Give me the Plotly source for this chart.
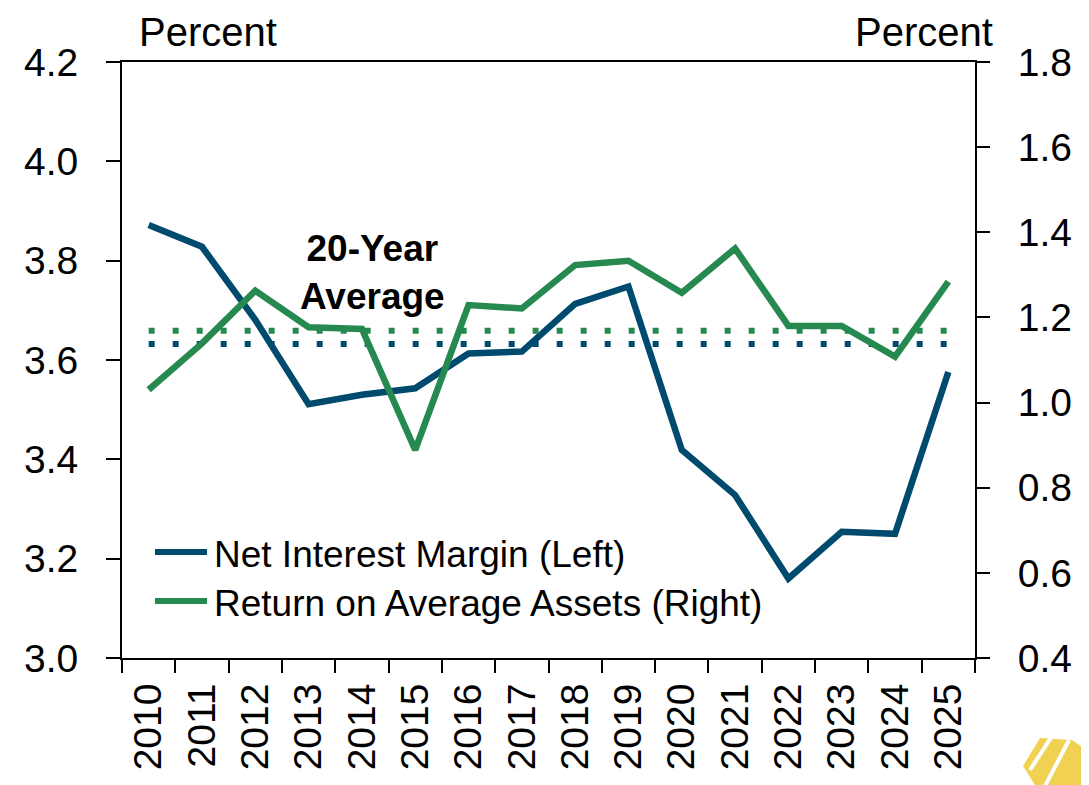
import plotly.graph_objects as go

years = [str(y) for y in range(2010, 2026)]
nim = [3.872, 3.828, 3.681, 3.511, 3.530, 3.543, 3.613, 3.617, 3.713, 3.748,
       3.419, 3.328, 3.160, 3.254, 3.250, 3.576]
roa = [1.030, 1.139, 1.263, 1.177, 1.173, 0.889, 1.229, 1.221, 1.323, 1.333,
       1.258, 1.362, 1.180, 1.180, 1.108, 1.284]
nim_avg = 3.632
roa_avg = 1.169

left_ticks = [3.0, 3.2, 3.4, 3.6, 3.8, 4.0, 4.2]
right_ticks = [0.4, 0.6, 0.8, 1.0, 1.2, 1.4, 1.6, 1.8]

series_names = ["Net Interest Margin (Left)", "Return on Average Assets (Right)"]

BLUE = "#004A6E"
GREEN = "#268950"
FONT = "Liberation Sans, Arial, sans-serif"

# page has an 8px body margin; size the figure to fill the rest of the window
OFF = 8
W, H = 1089 - OFF, 785 - OFF
# plot area in window pixels: x 122..975, y 62..658
PL, PR, PT, PB = 122, 975, 62, 658
ML, MT = PL - OFF, PT - OFF
MR, MB = W - (PR - OFF), H - (PB - OFF)
PW, PH = PR - PL, PB - PT


def px(x, y):
    """window pixel position -> paper coordinates"""
    return (x - PL) / PW, (PB - y) / PH


fig = go.Figure()
# 20-year averages (dotted)
fig.add_trace(go.Scatter(x=[years[0], years[-1]], y=[roa_avg, roa_avg], mode="lines",
                         line=dict(color=GREEN, width=6, dash="6px,18px"),
                         yaxis="y2", showlegend=False, hoverinfo="skip"))
fig.add_trace(go.Scatter(x=[years[0], years[-1]], y=[nim_avg, nim_avg], mode="lines",
                         line=dict(color=BLUE, width=6, dash="6px,18px"),
                         showlegend=False, hoverinfo="skip"))
# main series
fig.add_trace(go.Scatter(x=years, y=nim, mode="lines", name=series_names[0],
                         line=dict(color=BLUE, width=6.5), showlegend=False))
fig.add_trace(go.Scatter(x=years, y=roa, mode="lines", name=series_names[1],
                         line=dict(color=GREEN, width=6.5), yaxis="y2", showlegend=False))

shapes = []
annotations = []
# legend (drawn manually to match long swatches)
for name, color, ypx in [(series_names[0], BLUE, 552), (series_names[1], GREEN, 601)]:
    x0, yy = px(155, ypx)
    x1, _ = px(207, ypx)
    shapes.append(dict(type="line", xref="paper", yref="paper", x0=x0, x1=x1, y0=yy, y1=yy,
                       line=dict(color=color, width=6)))
    tx, ty = px(212, ypx + 2)
    annotations.append(dict(text=name, xref="paper", yref="paper", x=tx, y=ty,
                            xanchor="left", yanchor="middle", showarrow=False,
                            font=dict(size=37, color="black")))


# logo fragment (bottom right corner)
def path(pts, close=True):
    s = ""
    for i, (a, b) in enumerate(pts):
        xa, yb = px(a, b)
        s += ("M" if i == 0 else "L") + f"{xa:.4f},{yb:.4f} "
    return s + ("Z" if close else "")


shapes.append(dict(type="path", xref="paper", yref="paper",
                   path=path([(1023, 766), (1040, 738), (1072, 740), (1089, 752),
                              (1089, 785), (1035, 785)]),
                   fillcolor="#F0CC3E", opacity=0.9, line=dict(width=0)))
for seg in [[(1030, 770), (1052, 736)], [(1045, 786), (1069, 740)]]:
    shapes.append(dict(type="path", xref="paper", yref="paper", path=path(seg, False),
                       line=dict(color="white", width=4)))

lx, ly = px(138, 9)
rx, ry = px(994, 9)
ax, ay = px(372, 272)
annotations += [
    dict(text="Percent", xref="paper", yref="paper", x=lx, y=ly,
         xanchor="left", yanchor="top", showarrow=False, borderpad=0,
         font=dict(size=40)),
    dict(text="Percent", xref="paper", yref="paper", x=rx, y=ry,
         xanchor="right", yanchor="top", showarrow=False, borderpad=0,
         font=dict(size=40)),
    dict(text="<b>20-Year<br>Average</b>", xref="paper", yref="paper",
         x=ax, y=ay, xanchor="center", yanchor="middle", showarrow=False,
         font=dict(size=37)),
]

fig.update_layout(
    width=W, height=H,
    margin=dict(l=ML, r=MR, t=MT, b=MB, autoexpand=False),
    paper_bgcolor="white", plot_bgcolor="white",
    font=dict(family=FONT, size=39, color="black"),
    showlegend=False,
    xaxis=dict(type="category", categoryorder="array", categoryarray=years,
               range=[-0.5, len(years) - 0.5],
               tickson="boundaries", ticks="outside", ticklen=13, tickwidth=2,
               tickcolor="black", showline=True, linecolor="black", linewidth=2,
               mirror=True, showgrid=False, tickangle=-90, automargin=False,
               tickfont=dict(size=39), ticklabelstandoff=8),
    yaxis=dict(range=[3.0, 4.2], tickvals=left_ticks, tickformat=".1f",
               ticks="outside", ticklen=14, tickwidth=2, tickcolor="black",
               showline=True, linecolor="black", linewidth=2, showgrid=False,
               zeroline=False, automargin=False,
               tickfont=dict(size=39), ticklabelstandoff=20),
    yaxis2=dict(range=[0.4, 1.8], tickvals=right_ticks, tickformat=".1f",
                overlaying="y", side="right",
                ticks="outside", ticklen=13, tickwidth=2, tickcolor="black",
                showline=True, linecolor="black", linewidth=2, showgrid=False,
                zeroline=False, automargin=False,
                tickfont=dict(size=39), ticklabelstandoff=20),
    shapes=shapes,
    annotations=annotations,
)

fig.write_html("out.html")
